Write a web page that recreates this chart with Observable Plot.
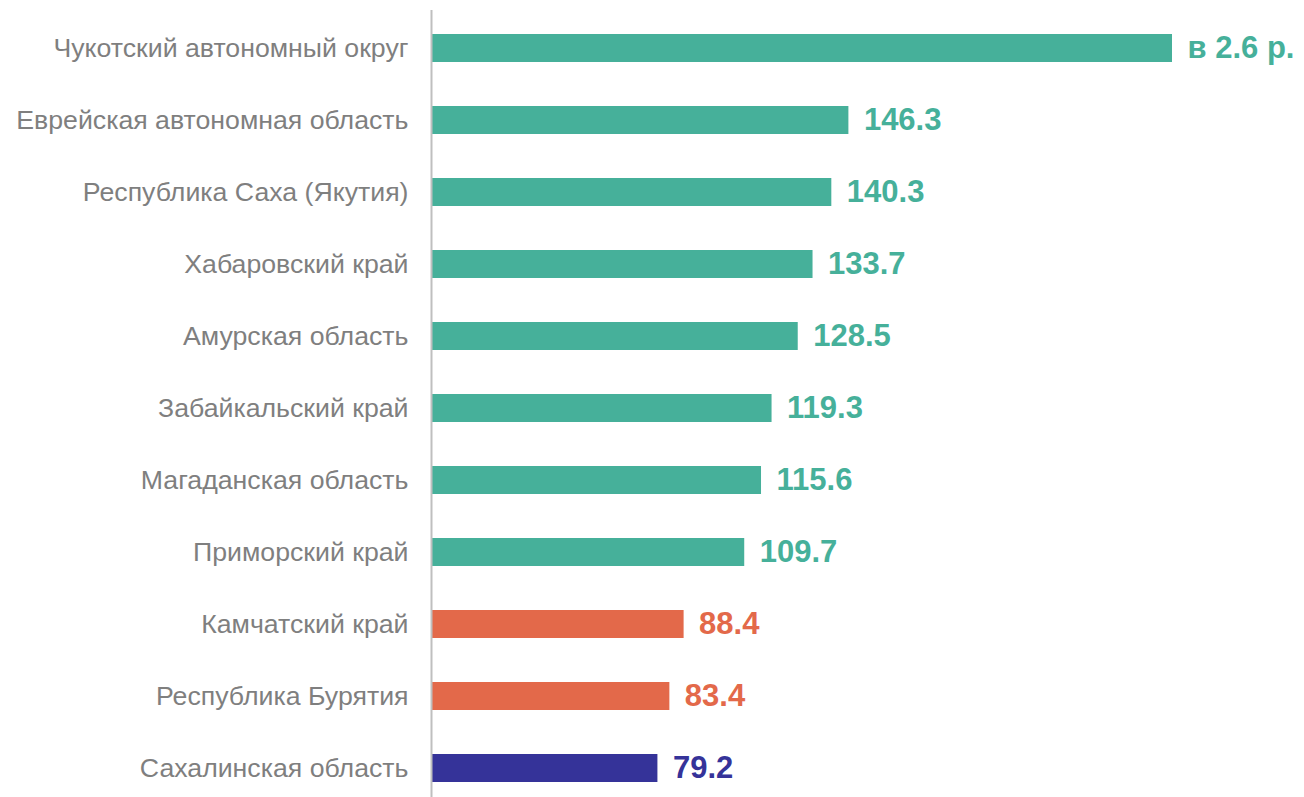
<!DOCTYPE html>
<html>
<head>
<meta charset="utf-8">
<script src="https://cdn.jsdelivr.net/npm/d3@7"></script>
<script src="https://cdn.jsdelivr.net/npm/@observablehq/plot@0.6"></script>
<style>
  html, body { margin: 0; padding: 0; background: #fff; }
  #chart svg { display: block; }
</style>
</head>
<body>
<div id="chart"></div>
<script>
const regions = [
  "Чукотский автономный округ",
  "Еврейская автономная область",
  "Республика Саха (Якутия)",
  "Хабаровский край",
  "Амурская область",
  "Забайкальский край",
  "Магаданская область",
  "Приморский край",
  "Камчатский край",
  "Республика Бурятия",
  "Сахалинская область"
];
const values = [260, 146.3, 140.3, 133.7, 128.5, 119.3, 115.6, 109.7, 88.4, 83.4, 79.2];
const valueLabels = ["в 2.6 р.", "146.3", "140.3", "133.7", "128.5", "119.3", "115.6", "109.7", "88.4", "83.4", "79.2"];
const groups = ["above", "above", "above", "above", "above", "above", "above", "above", "mid", "mid", "low"];

const groupDomain = ["above", "mid", "low"];
const groupColors = ["#46B09A", "#E3694A", "#353399"];

const data = regions.map((r, i) => ({region: r, value: values[i], label: valueLabels[i], group: groups[i]}));

const chart = Plot.plot({
  width: 1304,
  height: 797,
  marginLeft: 432,
  marginRight: 132,
  marginTop: 10,
  marginBottom: 0,
  style: {fontFamily: "'Liberation Sans', Arial, sans-serif", background: "#fff"},
  x: {domain: [0, 260], axis: null},
  y: {domain: regions, range: [10.3, 804.7], paddingInner: 0.613, paddingOuter: 0.3, axis: null},
  color: {domain: groupDomain, range: groupColors},
  marks: [
    Plot.barX(data, {y: "region", x: "value", fill: "group"}),
    Plot.ruleX([0], {stroke: "#BFBFBF", strokeWidth: 2, dx: -1}),
    Plot.text(data, {y: "region", x: 0, text: "region", textAnchor: "end", dx: -24, fontSize: 26.7, fill: "#7F7F7F"}),
    Plot.text(data, {y: "region", x: "value", text: "label", textAnchor: "start", dx: 15, fontSize: 31, fontWeight: "bold", fill: "group"})
  ]
});
document.getElementById("chart").append(chart);
</script>
</body>
</html>
